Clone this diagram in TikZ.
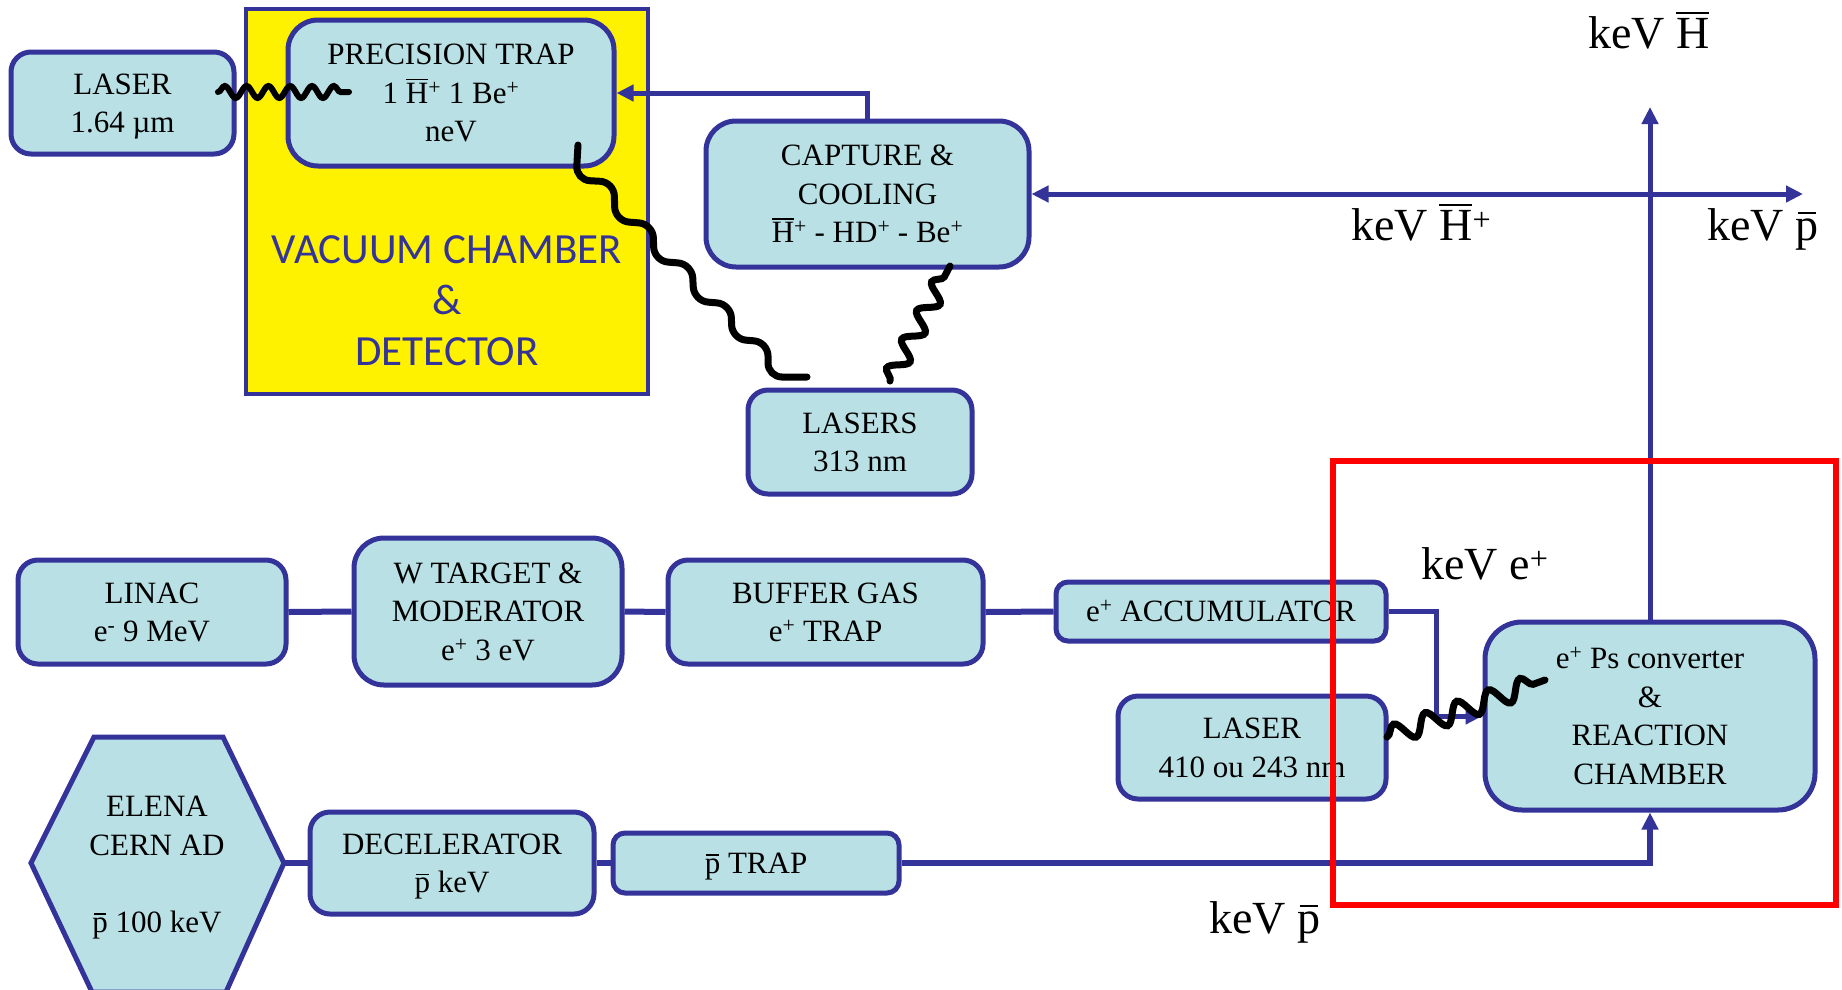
\documentclass[tikz,border=0pt]{standalone}
\usepackage{fontspec}
\setmainfont{Liberation Serif}
\newfontfamily\calib{Carlito}
\usetikzlibrary{arrows.meta,decorations.pathmorphing}
\definecolor{bblue}{RGB}{51,51,153}
\definecolor{lcyan}{RGB}{185,224,228}
\newcommand\barH{\leavevmode\rlap{\rule[0.74em]{0.72em}{0.05em}}H}
\newcommand\barp{\leavevmode\rlap{\hspace{0.05em}\rule[0.56em]{0.4em}{0.05em}}p}
\newcommand\sps[1]{\textsuperscript{#1}}
\newcommand\bstrut{\rule[-9pt]{0pt}{38.5pt}}
\tikzset{
  boxtext/.style={inner sep=0pt, align=center, font=\fontsize{31}{38.5}\selectfont,
    execute at end node=\bstrut},
  box/.style={boxtext, draw=bblue, fill=lcyan, line width=5pt},
  conn/.style={draw=bblue, line width=5pt},
  arr/.style={conn, -{Triangle[length=17pt,width=16pt]}},
  lbl/.style={font=\fontsize{46}{50}\selectfont, inner sep=0pt, anchor=base west},
  photon/.style={draw=black, line width=7pt, line cap=round}
}
\begin{document}
\begin{tikzpicture}[x=1pt,y=-1pt]
\useasboundingbox (0,0) rectangle (1842,989);
\fill[white] (0,0) rectangle (1842,989);

% vacuum chamber
\draw[fill=yellow, draw=bblue, line width=4.5pt] (246,9) rectangle (648,394);
\node[align=center, text=bblue, inner sep=0pt, font=\calib\fontsize{43}{51}\selectfont] (vac) at (447,301)
  {VACUUM CHAMBER\\\&\\DETECTOR};

% boxes
\node[box, minimum width=223pt, minimum height=102pt, rounded corners=20pt] (laserA) at (122.5,103) {\bstrut LASER\\1.64 µm};
\node[box, minimum width=326pt, minimum height=146pt, rounded corners=30pt] (ptrap) at (451,93)
  {\bstrut PRECISION TRAP\\1 \barH\sps{+} 1 Be\sps{+}\\neV};
\node[box, minimum width=323pt, minimum height=146pt, rounded corners=30pt] (capture) at (867.5,194)
  {\bstrut CAPTURE \&\\COOLING\\\barH\sps{+} - HD\sps{+} - Be\sps{+}};
\node[box, minimum width=224pt, minimum height=104pt, rounded corners=20pt] (lasers) at (860,442) {\bstrut LASERS\\313 nm};

\node[box, minimum width=268pt, minimum height=104pt, rounded corners=20pt] (linac) at (152,612) {\bstrut LINAC\\e\sps{-} 9 MeV};
\node[box, minimum width=268pt, minimum height=147pt, rounded corners=30pt] (wtarget) at (488,611.5)
  {\bstrut W TARGET \&\\MODERATOR\\e\sps{+} 3 eV};
\node[box, minimum width=315pt, minimum height=104pt, rounded corners=20pt] (buffer) at (825.5,612) {\bstrut BUFFER GAS\\e\sps{+} TRAP};
\node[box, minimum width=330pt, minimum height=59pt, rounded corners=12pt] (accum) at (1221,611.5) {\bstrut e\sps{+} ACCUMULATOR};
\node[box, minimum width=268pt, minimum height=103pt, rounded corners=20pt] (laserB) at (1252,747.5) {\bstrut LASER\\410 ou 243 nm};
\node[box, minimum width=330pt, minimum height=188pt, rounded corners=37pt] (reaction) at (1650,716)
  {\bstrut e\sps{+} Ps converter\\\&\\REACTION\\CHAMBER};

% ELENA hexagon
\draw[draw=bblue, fill=lcyan, line width=5pt] (94,737) -- (223,737) -- (284,863) -- (226,992) -- (92,992) -- (31,863) -- cycle;
\coordinate (elenaE) at (284,863);
\node[boxtext] (elena) at (157,864)
  {\bstrut ELENA\\CERN AD\\[38.5pt]\barp{} 100 keV};
\node[box, minimum width=284pt, minimum height=102pt, rounded corners=20pt] (decel) at (452,863) {\bstrut DECELERATOR\\\barp{} keV};
\node[box, minimum width=286pt, minimum height=60pt, rounded corners=12pt] (ptrapB) at (756,863) {\bstrut\barp{} TRAP};

% connectors
\draw[arr] (capture.north) |- (ptrap.east);
\coordinate (topH) at (1650,107);
\coordinate (cross) at (1650,194);
\coordinate (pright) at (1803,194);
\draw[arr] (reaction.north) -- (topH);
\draw[arr] (cross) -- (capture.east);
\draw[arr] (cross) -- (pright);

\draw[conn, line width=6pt] (linac.east) -- (wtarget.west);
\draw[conn, line width=6pt] (wtarget.east) -- (buffer.west);
\draw[conn, line width=6pt] (buffer.east) -- (accum.west);
\coordinate (bend) at (1436,611.5);
\draw[arr] (accum.east) -- (bend) |- (reaction.west);

\draw[conn, line width=6pt] (elenaE) -- (decel.west);
\draw[conn, line width=6pt] (decel.east) -- (ptrapB.west);
\draw[arr, line width=6pt] (ptrapB.east) -| (reaction.south);

% labels
\node[lbl] (lH) at (1588,48) {keV \barH};
\node[lbl] (lHp) at (1351,240) {keV \barH\sps{+}};
\node[lbl] (lp1) at (1707,240) {keV \barp};
\node[lbl] (le) at (1421,579) {keV e\sps{+}};
\node[lbl] (lp2) at (1209,933) {keV \barp};

% photons
\coordinate (w1a) at (218,92);
\coordinate (w1b) at (349,92);
\draw[photon, line width=6pt, decorate, decoration={snake, segment length=21.8pt, amplitude=6pt}] (w1a) -- (w1b);

\coordinate (w2a) at (578,145);
\coordinate (w2b) at (807,377);
\draw[photon, rounded corners=14pt] (w2a) -- (576,180) -- (614,182) -- (615,221) -- (653,224) -- (654,261)
  -- (692,264) -- (694,301) -- (731,304) -- (732,339) -- (768,342) -- (768,377) -- (w2b);

\coordinate (w3a) at (890,381);
\coordinate (w3b) at (950,266);
\draw[photon, decorate, decoration={snake, segment length=32.4pt, amplitude=9pt}] (w3a) -- (w3b);

\coordinate (w4a) at (1387,737);
\coordinate (w4b) at (1545,680);
\draw[photon, decorate, decoration={snake, segment length=33.6pt, amplitude=10pt}] (w4a) -- (w4b);

% red frame
\draw[red, line width=6.5pt] (1333,461) rectangle (1836,905);
\end{tikzpicture}
\end{document}
